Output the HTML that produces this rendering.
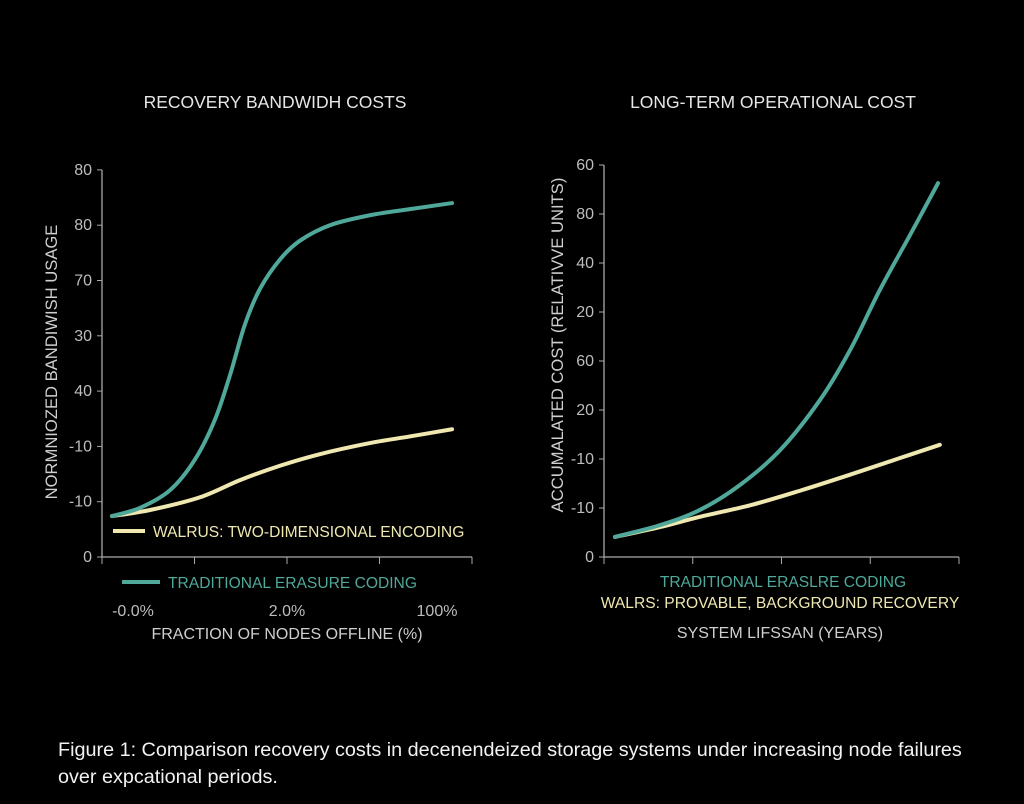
<!DOCTYPE html>
<html><head><meta charset="utf-8"><style>
body{margin:0;background:#000;}
svg{display:block;font-family:"Liberation Sans",sans-serif;}
</style></head><body>
<svg id="c" width="1024" height="804" viewBox="0 0 1024 804">
<rect width="1024" height="804" fill="#000"/>
<text x="275" y="108" text-anchor="middle" fill="#e6e6e6" font-size="17.5">RECOVERY BANDWIDH COSTS</text>
<text x="773" y="108" text-anchor="middle" fill="#e6e6e6" font-size="17.5">LONG-TERM OPERATIONAL COST</text>
<text transform="translate(57,362) rotate(-90)" text-anchor="middle" fill="#cfcfcf" font-size="16.6">NORMNIOZED BANDIWISH USAGE</text>
<text transform="translate(563,345) rotate(-90)" text-anchor="middle" fill="#cfcfcf" font-size="16.6">ACCUMALATED COST (RELATIVVE UNITS)</text>
<text x="287" y="639" text-anchor="middle" fill="#cfcfcf" font-size="16">FRACTION OF NODES OFFLINE (%)</text>
<text x="780" y="638" text-anchor="middle" fill="#cfcfcf" font-size="16">SYSTEM LIFSSAN (YEARS)</text>
<line x1="113" y1="531" x2="145" y2="531" stroke="#efe8b0" stroke-width="4"/>
<text x="153" y="537" fill="#efe8b0" font-size="15.6">WALRUS: TWO-DIMENSIONAL ENCODING</text>
<line x1="122" y1="582" x2="160" y2="582" stroke="#4fa89a" stroke-width="4"/>
<text x="168" y="588" fill="#4fa89a" font-size="15.6">TRADITIONAL ERASURE CODING</text>
<text x="783" y="587" text-anchor="middle" fill="#4fa89a" font-size="15.6">TRADITIONAL ERASLRE CODING</text>
<text x="780" y="608" text-anchor="middle" fill="#efe8b0" font-size="15.6">WALRS: PROVABLE, BACKGROUND RECOVERY</text>
<text x="58" y="756" fill="#f2f2f2" font-size="19.8">Figure 1: Comparison recovery costs in decenendeized storage systems under increasing node failures</text>
<text x="58" y="783" fill="#f2f2f2" font-size="19.8">over expcational periods.</text>
<g id="left"></g><g id="right"></g>
</svg>
<script>
const leftYTicks=["0","-10","-10","40","30","70","80","80"];
const leftXTicks=["-0.0%","2.0%","100%"];
const leftTeal=[[2.7,0.74],[10.3,0.89],[18.4,1.21],[25,1.75],[30.5,2.48],[34.6,3.29],[38.6,4.2],[42.7,4.85],[48.1,5.38],[53.5,5.72],[61.6,6.0],[72.4,6.18],[83.2,6.29],[94.6,6.40]];
const leftYellow=[[2.7,0.74],[13,0.85],[26.5,1.08],[37.3,1.39],[48.1,1.65],[58.9,1.86],[72.4,2.06],[83.2,2.18],[94.6,2.31]];
const rightYTicks=["0","-10","-10","20","60","20","40","80","60"];
const rightTeal=[[3.1,0.41],[15.8,0.65],[27,0.96],[38.3,1.47],[49.6,2.18],[60.8,3.2],[69.3,4.22],[77.7,5.45],[86.2,6.57],[94.1,7.63]];
const rightYellow=[[3.1,0.41],[15.8,0.61],[27,0.82],[41.4,1.06],[55.5,1.36],[69.3,1.68],[83.4,2.02],[94.6,2.29]];
const NS="http://www.w3.org/2000/svg";
function mk(t,a,p){const e=document.createElementNS(NS,t);for(const k in a)e.setAttribute(k,a[k]);p.appendChild(e);return e;}
function path(pts){let d="M"+pts[0][0]+","+pts[0][1];for(let i=0;i<pts.length-1;i++){const p0=pts[Math.max(0,i-1)],p1=pts[i],p2=pts[i+1],p3=pts[Math.min(pts.length-1,i+2)];
d+=" C"+(p1[0]+(p2[0]-p0[0])/6)+","+(p1[1]+(p2[1]-p0[1])/6)+" "+(p2[0]-(p3[0]-p1[0])/6)+","+(p2[1]-(p3[1]-p1[1])/6)+" "+p2[0]+","+p2[1];}return d;}
function chart(g,name,x0,x1,y0,step,yt,xt,teal,yellow,xlabX){
 const sx=v=>x0+(x1-x0)*v/100, sy=v=>y0-step*v;
 let e=mk("line",{x1:x0,y1:y0,x2:x0,y2:sy(yt.length-1),stroke:"#aaa","stroke-width":1.3},g);
 
 e=mk("line",{x1:x0,y1:y0,x2:x1,y2:y0,stroke:"#aaa","stroke-width":1.3},g);
 
 yt.forEach((t,i)=>{mk("line",{x1:x0-5,y1:sy(i),x2:x0,y2:sy(i),stroke:"#aaa"},g);
  const tx=mk("text",{x:x0-10,y:sy(i)+5,"text-anchor":"end",fill:"#bdbdbd","font-size":16},g);tx.textContent=t;
  });
 for(let i=0;i<=4;i++)mk("line",{x1:sx(i*25),y1:y0,x2:sx(i*25),y2:y0+7,stroke:"#aaa"},g);
 xt.forEach((t,i)=>{const tx=mk("text",{x:xlabX[i],y:616,"text-anchor":"middle",fill:"#bdbdbd","font-size":16},g);tx.textContent=t;
  });
 e=mk("path",{d:path(yellow.map(p=>[sx(p[0]),sy(p[1])])),fill:"none",stroke:"#efe8b0","stroke-width":4,"stroke-linecap":"round"},g);
 
 e=mk("path",{d:path(teal.map(p=>[sx(p[0]),sy(p[1])])),fill:"none",stroke:"#4fa89a","stroke-width":4,"stroke-linecap":"round"},g);
 
}
chart(document.getElementById("left"),"left",102,472,557,55.3,leftYTicks,leftXTicks,leftTeal,leftYellow,[133,287,437]);
chart(document.getElementById("right"),"right",604,959,557,49,rightYTicks,[],rightTeal,rightYellow,[]);
</script>
</body></html>
